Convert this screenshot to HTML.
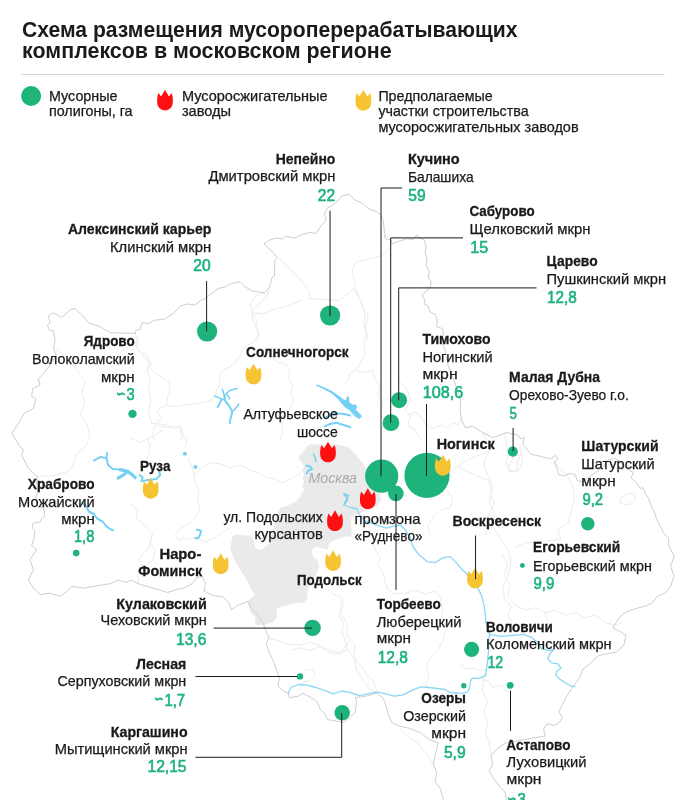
<!DOCTYPE html>
<html lang="ru"><head><meta charset="utf-8"><title>Схема размещения мусороперерабатывающих комплексов</title>
<style>html,body{margin:0;padding:0;background:#fff}svg{display:block;will-change:transform}text{font-family:"Liberation Sans",sans-serif}</style></head><body>
<svg width="686" height="800" viewBox="0 0 686 800">
<rect width="686" height="800" fill="#fff"/>
<path d="M305,449.2 L307.6,445.7 L312,444 L317.2,444.6 L336.5,444.6 L343.5,445.7 L348.7,447.5 L352.2,451 L355.7,454.5 L359.2,458.9 L362.7,463.2 L365.3,467.6 L369,476 L372,487 L380,494 L381,501 L376,506 L370,509.6 L362.7,512.2 L357.5,514 L354.8,515.7 L351,518 L351.8,536.6 L345.4,536.6 L336.6,539.5 L329.3,542.4 L327.9,549.7 L322,548.3 L316.2,546.8 L311.8,549.7 L313.3,557 L317.7,560 L319.1,565.8 L316.2,574.5 L310.4,583.3 L307.5,592 L307.5,597.8 L304.5,602.2 L292.9,603.7 L282.7,606.6 L277,609 L276.7,617.9 L273.2,622.2 L266,624.5 L256.6,624.9 L254.9,622.2 L255.7,617 L252.2,614.4 L249.6,610 L249.2,606.6 L247.7,600.8 L255,594.9 L252.1,590.6 L247.7,581.8 L243.3,574.5 L237.5,565.8 L233.1,557 L230.2,548.3 L232.5,536.5 L235.1,534.5 L241.7,534.9 L248.2,535.8 L252.2,536.5 L254.2,543.1 L255.5,548.3 L261.4,550.3 L269.9,543.1 L271.9,533 L274.5,524.7 L277.1,514 L278.4,510.9 L281,507.6 L287.5,506.1 L291,503.5 L294.5,502.6 L297.1,500 L299.7,497.3 L301.5,493.8 L304.1,490.3 L302.4,486 L304.1,482.5 L302.4,478.1 L304.1,473.7 L301.5,470.2 L304.1,467.6 L302.4,463.2 L299.7,460.6 L298.9,456.2 L302.4,452.7 Z" fill="#eaeaea"/>
<g fill="none" stroke="#ebebeb" stroke-width="1" stroke-linejoin="round">
<path d="M135.2,333.4 L136.8,340.1 L135.2,346.8 L140.2,351.8 L146.9,355.1 L150.2,363.4 L146.9,370.1 L150.2,380.1 L148.5,390.1 L150.9,400.2 L148.5,413.5 L151.9,423.5 L156.9,423.5 L166.9,425.2 L173.6,428.5 L180.2,426.9 L181.9,436.9 L186.9,440.2 L185.2,446.9"/>
<path d="M53.4,348.4 L66.8,356.8 L85.1,381.8 L81.8,393.5 L85.1,403.5 L80.1,413.5 L86.8,423.5 L90.1,436.9 L85.1,446.9 L76.8,453.6 L71.8,466.9 L66.8,471.9 L53.4,475.3 L37.4,476.9"/>
<path d="M277.3,257.6 L283.7,262.9 L298.3,277.5 L310.0,292.0 L308.5,298.5 L324.5,299.3 L339.1,300.8 L355.2,287.7 L352.2,268.7 L355.2,262.9 L365.4,260.0 L377.0,257.1 L382.9,255.6 L391.6,245.4"/>
<path d="M355.2,287.7 L356.6,295.0 L359.5,297.9 L362.4,306.6 L368.3,315.4 L365.4,327.0 L368.3,339.9"/>
<path d="M269.2,289.1 L267.7,295.0 L257.5,305.2 L251.7,312.4 L253.1,321.2 L259.0,329.9 L257.5,339.9"/>
<path d="M504.5,431.6 L507.9,453.2 L506.2,461.5 L509.5,471.5 L516.2,471.5 L517.8,461.5 L521.1,453.2 L519.5,444.9"/>
<path d="M552.7,458.2 L557.7,466.5 L567.7,476.4 L572.7,486.4 L574.3,499.7 L571.0,513.0 L567.7,523.0 L557.7,529.6 L561.0,539.6 L541.1,541.2 L524.5,542.9 L514.5,547.9"/>
<path d="M458.0,466.5 L477.9,476.4 L487.9,479.8 L491.2,489.7 L489.6,503.0 L494.6,513.0 L492.9,526.3 L501.2,539.6 L507.9,549.6 L511.2,562.8 L507.9,576.1 L502.9,586.1 L504.5,599.4 L511.2,606.0 L507.9,616.0 L514.5,626.0"/>
<path d="M269.2,637.9 L286.6,643.7 L298.3,645.2 L310.0,642.3 L321.6,646.6 L327.5,652.5 L339.1,653.9 L347.9,649.6 L345.0,640.8 L342.0,632.1 L343.5,623.3 L339.1,614.6 L342.0,605.8 L340.6,600.0"/>
<path d="M347.9,649.6 L353.7,658.3 L356.6,670.0 L362.4,678.7 L368.3,687.5 L377.0,693.3"/>
<path d="M484.0,680.0 L482.2,690.5 L487.5,701.0 L484.0,711.5 L487.5,722.0 L485.7,732.5 L489.2,741.2 L491.0,755.2"/>
<path d="M433.2,764.0 L428.0,755.2 L417.5,743.0 L407.0,736.0 L400.0,729.0"/>
<path d="M138.3,583.7 L138.3,572.1 L142.7,564.8 L138.3,560.4 L142.7,554.6 L148.5,548.7 L151.4,540.0"/>
<path d="M619.3,502.6 L621.6,496.8 L626.3,494.5 L632.1,493.3 L635.6,495.6 L634.5,500.3 L631.0,503.8 L626.3,505.0 L619.3,502.6"/>
<path d="M135.0,333.9 L138.8,340.2 L136.3,347.7 L141.3,352.7 L145.0,359.0 L151.3,362.7 L148.8,367.7 L155.1,372.7 L162.6,377.8 L168.9,382.8 L170.1,390.3 L167.6,397.8 L166.4,405.3 L173.9,406.6 L182.7,405.3 L192.7,404.1 L202.7,402.8 L210.2,400.3 L215.3,396.6"/>
<path d="M166.4,405.3 L160.1,407.9 L157.6,412.9 L161.3,417.9 L155.1,425.4 L152.6,432.9 L153.8,439.9"/>
<path d="M270.4,290.0 L266.7,295.0 L260.4,292.5 L254.1,297.5 L250.4,305.0 L252.9,312.6 L256.6,320.1 L255.4,327.6 L259.1,335.1 L255.4,340.2 L250.4,343.9 L242.8,348.9 L240.3,355.2 L235.3,362.7 L230.3,366.5 L222.8,370.2 L219.0,376.5 L220.3,384.0 L216.5,390.3 L215.3,396.6"/>
<path d="M252.9,312.6 L262.9,313.8 L270.4,310.1 L280.5,307.6 L290.5,305.0 L302.0,300.0"/>
<path d="M270.4,350.2 L272.9,357.7 L277.9,362.7 L285.5,364.0 L290.5,370.2 L288.0,377.8 L293.0,385.3 L290.5,392.8 L294.2,400.3 L290.5,407.9 L285.5,412.9 L280.5,420.4 L283.0,427.9 L280.5,439.9"/>
<path d="M155.1,425.4 L167.6,427.4 L180.2,426.7 L183.9,435.4 L180.2,439.9"/>
<path d="M356.4,290.0 L359.0,297.5 L362.7,305.0 L365.2,315.1 L364.0,325.1 L366.5,335.1 L364.0,342.7 L365.2,352.7 L360.2,362.7 L356.4,370.2 L350.2,372.7 L347.7,380.3 L343.9,385.3"/>
<path d="M356.4,370.2 L365.2,372.7 L372.7,370.2 L375.3,380.3 L380.3,385.3 L377.8,395.3 L382.8,402.8 L380.3,412.9 L384.0,420.4 L381.5,430.4"/>
<path d="M397.8,380.3 L402.8,385.3 L407.9,390.3 L410.4,400.3 L405.3,410.4 L410.4,415.4 L407.9,425.4 L415.4,430.4 L420.4,439.9"/>
<path d="M187.7,457.6 L191.4,465.1 L193.9,473.9 L195.2,482.7 L199.0,490.2 L197.7,500.2 L200.2,507.7 L196.4,515.3 L192.7,520.3 L186.4,525.3 L180.2,529.0 L175.1,535.3 L178.9,540.3 L183.9,537.8 L188.9,540.3 L192.7,537.8 L197.7,539.1 L205.2,541.6 L212.7,539.1 L220.3,534.1 L225.3,530.3 L230.3,528.3"/>
<path d="M193.9,473.9 L202.7,467.6 L210.2,462.6 L220.3,463.9 L230.3,467.6 L240.3,465.1 L250.4,470.1 L260.4,473.9 L266.7,477.6 L275.4,478.9 L283.0,482.7 L293.0,477.6 L302.0,472.6"/>
<path d="M130.0,437.5 L140.0,442.5 L147.6,438.8 L155.1,435.0 L162.6,430.0"/>
<path d="M147.6,438.8 L150.1,445.0 L148.8,455.1 L145.0,462.6"/>
<path d="M130.0,502.7 L137.5,510.2 L136.3,517.8 L145.0,525.3 L152.6,532.8 L150.1,542.8 L155.1,550.4 L152.6,560.4 L145.0,566.7"/>
<path d="M461.5,420.1 L457.7,425.1 L452.7,422.6 L447.7,427.6 L440.2,425.1 L432.6,428.8 L425.1,423.8 L420.1,415.0 L415.1,412.5 L407.6,415.0"/>
<path d="M482.8,432.6 L486.5,440.1 L490.3,450.2 L485.3,457.7 L484.0,465.2 L486.5,472.7 L490.3,480.2 L492.8,487.8 L490.3,495.3 L494.1,502.8 L491.6,510.3 L487.8,515.3 L490.3,525.4 L485.3,535.4"/>
<path d="M450.2,472.7 L455.2,467.7 L462.7,462.7 L472.7,457.7 L482.8,453.9 L490.3,450.2"/>
<path d="M447.7,490.3 L452.7,500.3 L450.2,507.8 L440.2,510.3 L432.6,517.9 L427.6,525.4 L430.1,535.4"/>
<path d="M507.9,467.2 L511.6,461.4 L513.4,456.4 L522.4,453.9 L521.6,462.7 L519.1,470.2 L514.1,471.5 L509.9,470.2 L507.9,467.2"/>
<path d="M327.6,588.9 L332.6,593.9 L340.2,596.4 L343.9,602.7 L340.2,610.2 L343.9,617.7 L347.7,625.3 L346.4,632.8 L350.2,640.3 L355.2,645.3 L353.9,655.3 L357.7,662.9 L362.7,667.9 L367.7,675.4 L372.7,680.4 L376.5,689.9"/>
<path d="M372.7,540.0 L375.3,550.0 L380.3,557.6 L377.8,565.1 L382.8,572.6 L385.3,582.6 L387.8,590.2 L395.3,593.9 L407.9,592.7 L415.4,590.2 L425.4,593.9 L435.4,591.4 L440.5,597.7 L443.0,610.2 L440.5,620.2 L445.5,630.3 L443.0,640.3 L437.9,650.3 L430.4,657.9 L426.7,665.4 L429.2,675.4 L425.4,685.4 L430.4,689.9"/>
<path d="M290.0,650.3 L300.0,647.8 L310.1,650.3 L320.1,646.6 L330.1,650.3 L340.2,652.8 L350.2,640.3"/>
<path d="M305.0,670.4 L312.6,669.1 L315.1,675.4 L310.1,680.4 L302.5,682.9 L300.0,689.9"/>
<path d="M502.7,555.0 L507.7,565.1 L503.9,575.1 L510.2,585.1 L507.7,595.2 L515.2,605.2 L525.2,610.2 L535.3,607.7 L545.3,612.7 L555.3,610.2 L565.3,615.2 L575.4,612.7 L585.4,617.7 L595.4,615.2 L605.5,622.7 L615.5,625.3 L622.0,622.7"/>
<path d="M545.3,612.7 L547.8,622.7 L552.8,630.3"/>
<path d="M460.0,664.9 L466.1,669.0 L472.2,668.0 L480.4,670.0 L486.5,669.0 L488.6,673.1 L482.4,679.2 L488.6,681.2 L492.7,687.3 L500.8,685.3 L504.9,690.4 L511.0,691.4"/>
</g>
<g fill="none" stroke="#cecece" stroke-width="1" stroke-linejoin="round">
<path d="M349.3,194.4 L355.2,200.2 L362.4,203.1 L366.8,207.5 L372.6,210.4 L376.1,211.2 L381.2,215.3 L383.3,220.4 L384.3,230.6 L385.3,238.8 L390.4,239.8 L392.4,243.9 L396.5,241.8 L400.6,240.8 L406.7,238.8 L412.9,239.8 L416.9,234.7 L419,237.8 L424.1,239.8 L426.1,246.9 L425.1,253.1 L427.1,259.2 L426.1,265.3 L429.2,271.4 L428.2,277.6 L431.2,281.6 L430.2,287.8 L425.1,291.8 L422,295.9 L425.1,300 L424.1,304.1 L428.2,306.1 L430.2,312.2 L435.3,314.3 L437.3,320.4 L436.3,326.5 L442.4,328.6 L443.5,334.7 L441.4,340 L445,350 L448,365 L454,380.2 L457.4,390.3 L460.7,400.3 L460.2,410 L461.5,420.1 L465.2,427.6 L472.7,426.3 L482.8,432.6 L492.8,437.6 L500.3,435.1 L506.6,432.6 L512.9,433.9 L517.9,435.1 L520.4,438.9 L524.2,437.6 L522.9,443.9 L526.7,448.9 L530.4,453.9 L540.5,456.4 L550.5,458.9 L555.5,455.2 L558,458.9 L554.2,462.7 L556.7,467.7 L558.7,474.6 L563.3,475.8 L570.3,473.5 L575,474.6 L577.3,480.5 L582,481.6 L603,467.6 L607.6,460.6 L614.6,458.3 L619.3,460.6 L624,466.5 L628.6,470 L633.3,472.3 L631,478.1 L635.6,481.6 L640.3,488.6 L642.6,487.5 L645,493.3 L648.5,498 L650.8,505 L654.3,512 L656.6,519 L660.1,526 L663.6,533 L668.3,537.6 L669,546.2 L674,556.2 L670.7,566.2 L674,576.2 L670.7,586.1 L665.7,592.8 L657.4,596.1 L652.4,602.7 L646.4,605.6 L633.4,609.3 L624,613.1 L618.4,618.7 L612.8,628 L620.3,631.7 L625.9,635.4 L624,644.8 L616.6,652.2 L605.4,654.1 L597.9,656 L590.4,663.4 L583,669 L579.3,678.4 L573.7,685.8 L569.9,691.4 L566.2,697 L562.5,704.5 L558.7,711.9 L562.5,717.5 L558.7,723.1 L554,725.5 L547,723.7 L543.5,729 L545.2,736 L505,743 L498,748.2 L491,755.2 L492.7,764 L489.2,771 L494.5,779.7 L499.7,786.7 L505,792 L506.7,801"/>
<path d="M443.7,801 L440.2,788.5 L435,781.5 L436.7,772.7 L433.2,764 L438.3,742.9 L429.5,739.9 L420.8,732.7 L409.1,728.3 L397.4,725.4 L391.6,722.4 L388.7,715.2 L385.8,705 L382.9,697.7 L377,693.3 L365.4,696.2 L355.2,697.7 L356.6,702 L355.2,712.2 L350.8,716.6 L343.5,722.4 L336.2,721 L327.5,719.5 L324.5,713.7 L320.2,709.3 L317.3,702 L311.4,697.7 L302.7,693.3 L298.3,696.2 L289.6,697.7 L288.1,693.3 L282.3,690.4 L277.9,686 L279.4,677.3 L276.4,670 L273.5,661.2 L269.2,652.5 L266.2,643.7 L269.2,637.9 L266.2,632 L263.3,623.3 L257.5,614.6 L251.7,608.7 L247.3,601 L244.7,602.7 L237.4,605.6 L231.6,610 L228.7,602.7 L222.9,596.9 L212.7,595.4 L203.9,591 L205.4,583.7 L202.4,576.4 L196.6,577.9 L192.2,583.7 L183.5,588.1 L176.2,589.6 L167.5,592.5 L152.9,588.1 L138.3,583.7 L131,580.2 L126.6,582.3 L117.9,580.2 L110.6,583.7 L103.5,584.7 L93.5,586.4 L83.4,588.1 L71.8,586.4 L66.8,591.4 L60.1,596.4 L50.1,593.1 L40.1,594.7 L33.4,588.1 L28.4,579.7 L33.4,569.7 L30,559.7 L36.7,549.7 L31.7,545.4 L34.2,538 L34.8,530.5 L32.3,528 L33,523.1 L40.4,521.8 L41,519.4 L44.1,516.9 L44.7,511.9 L43.5,508.2 L37.3,505.7 L35.4,498.3 L37.9,492.1 L36.7,483.4 L37.4,476.9 L33.4,472.9 L28.4,468.6 L26,463.6 L21.7,455.2 L23.4,449.6 L20,446.9 L16,440.2 L11.7,433.5 L18.4,423.5 L24,413.5 L33.4,408.5 L36,399.5 L31.7,396.2 L32.7,388.5 L40.1,385.1 L38.4,378.5 L43.4,373.5 L50.1,365.1 L56.1,355.1 L53.4,348.4 L55.1,340.1 L53.4,330.7 L49.4,330.1 L47.4,325.1 L50.1,322.7 L48.4,316 L53.4,312.7 L61.7,317.4 L70.8,309.4 L75.1,308.4 L82.8,316 L88.5,322.7 L100.1,326.7 L110.1,332.7 L135.2,333.4 L136.2,330.1 L140.2,329.4 L141.9,322.7 L148.5,323.4 L155.2,320.1 L163.6,319.4 L173.6,313.4 L180.2,306 L186.9,304 L195.3,305 L200.3,300.7 L205,298.5 L211.7,293.5 L218.4,288.5 L225,286.8 L231.7,283.4 L240.1,281.8 L245.1,286.8 L253.1,291.5 L264.8,292.6 L269.2,287.7 L272.1,277.5 L274.4,276 L275,260 L277.3,257.6 L273.5,252.7 L263.9,243.9 L269.2,240.1 L276.4,238.1 L283.1,239 L286.1,236.1 L293.9,238.1 L302.7,234.3 L310,232.3 L315.8,233.7 L321.6,225 L326,220.6 L324.5,213.3 L327.5,208.1 L334.8,204 L337.7,201.1 L342,195.8 L349.3,194.4"/>
</g>
<g fill="none" stroke="#8ad6f6" stroke-linecap="round" stroke-linejoin="round">
<g stroke-width="1.3"><path d="M344,494 L347,499 L344,505 L351,507.5 L357,509 L359.1,514.1 L364.2,520.1 L376.3,525.2 L386.4,528.2 L393.5,526.2 L400.6,525.2 L405.7,530.3 L410.7,538.4 L412.8,546.5 L418.8,554.6 L426.9,561.6 L435,562.7 L443.1,557.6 L450.2,556.6 L455.3,561.6 L461.3,568.7 L467.4,574.8 L470,577.8 L477.4,587.2 L481.5,595.4 L484.3,606.4 L485.6,617.4 L485.5,620 L487.6,628.2 L489.6,634.3"/><path d="M288.1,693.3 L291,687.5 L298.3,684.5 L307.1,685.1 L315.8,687.5 L324.5,690.4 L333.3,693.9 L342,691 L350.8,692.7 L359.5,695.6 L368.3,693.9 L377,691.8 L385.8,693.9 L394.5,696.2 L403.3,694.8 L412,690.4 L420.8,686.9 L429.5,687.5 L445,689.5 L449.7,692.1 L456.7,693 L462.5,693.3 L467.2,692.1 L469.5,688.9 L470.1,683.7 L471.2,679.6 L473,678.1 L477.7,678.4 L482.3,677.2 L485,675.8 L486.5,669 L487.6,660.8 L488.6,650.6 L488.6,642.4 L489.6,634.3 L500.8,636.3 L513.1,635.3 L523.3,634.3 L531.4,637.3 L537.6,642.4 L541.6,648.6 L549.8,650.6 L553.9,649.6 L549.8,653.7 L547.8,658.8 L551.8,662.9 L558,663.9 L561,668 L556.9,671 L555.9,675.1 L560,679.2 L566.1,683.3 L571.2,686.3 L575.3,686.3"/></g>
<g stroke-width="1.5" stroke="#74d1f5"><path d="M313.3,454 L315.3,457.8 L315.8,461.5"/><path d="M224.7,395.7 L227.3,392.5 L229.9,390.5 L233.9,389.2 L237.2,388.5"/><path d="M224.7,397.5 L223.4,392.5 L222.4,389.5"/><path d="M227.3,395.1 L229,397.1 L229.6,399"/><path d="M224.7,399.7 L221.4,399 L218.1,397.4 L214.8,396.1"/><path d="M232.6,411.5 L235.2,408.9 L237.2,406.2 L238.8,404"/></g>
<g stroke-width="2" stroke="#74d1f5"><path d="M306.5,465.5 L310.5,466.8 L312,469 L308.5,470.5 L306.5,473.5"/><path d="M222,399.5 L220.1,402.3 L218.8,405.3 L217.5,407.2"/><path d="M224.7,396 L224.7,399.7 L226.7,403 L229.3,406.2 L231.2,409.5 L232.2,412.8 L231.2,416.1 L230.3,419.4 L229.9,423"/><path d="M82.6,502.7 L86.3,506.5 L88.8,511.5 L93.9,514 L97.6,519 L102.6,521.5 L106.4,526.5 L110.2,529 L113.2,530.3"/><path d="M93.9,460.6 L100.1,457.1 L106.4,458.1 L108.1,465.1 L112.7,468.9 L120.2,469.6"/><path d="M106.4,458.1 L107,453"/><path d="M139.7,475.1 L142.7,477.6 L141.5,481.4 L146.5,480.2 L156.5,478.9 L160.3,475.1 L159,471.4 L161.6,470.1"/><path d="M196.7,529.8 L200.9,530.8 L200.4,534 L198.4,537.8 L195.4,538.3"/><path d="M324.6,426.4 L330.4,423.9 L336.7,422.7 L344.2,425.2 L350.5,427.2"/><path d="M325.1,417.9 L333.9,412.9 L343.9,414.1 L350.2,415.4"/><path d="M344.2,494.1 L347.9,495.4 L346.7,500.4 L344.2,504.2"/></g>
<g stroke-width="3.2" stroke="#74d1f5"><path d="M120.2,469.6 L127.7,471.4 L132.7,475.1 L135.2,477.6"/><path d="M118.2,478.1 L123.9,474.6 L127.7,471.4"/></g>
</g>
<g fill="#74d1f5"><path d="M316.3,384.3 L323.9,387.3 L331.4,390.8 L338.9,395.8 L343.2,399.3 L345.7,400.3 L347.2,396.3 L349.2,397.3 L349.2,402.3 L352.7,404.8 L355.7,404.3 L357.2,407.4 L355.7,409.4 L359.0,412.9 L362.0,415.9 L359.7,418.9 L355.7,416.9 L352.2,413.4 L349.2,409.9 L345.7,407.9 L342.2,404.3 L338.1,399.3 L331.4,393.3 L323.9,389.3 L316.3,385.8 Z"/></g>
<g fill="#74d1f5"><circle cx="184.9" cy="453.8" r="2"/><circle cx="195.4" cy="467.1" r="2"/></g>
<rect x="21.1" y="74" width="643.7" height="1" fill="#d5d5d5"/>
<g fill="#1fb37c">
<circle cx="31.1" cy="96" r="10"/>
<circle cx="330.1" cy="315.5" r="10.1"/>
<circle cx="207.1" cy="331.5" r="10.1"/>
<circle cx="132.5" cy="413.9" r="4.2"/>
<circle cx="76.2" cy="553.1" r="3.3"/>
<circle cx="312.6" cy="627.9" r="8.2"/>
<circle cx="427" cy="475.4" r="22.6"/>
<circle cx="381.7" cy="476.2" r="16.6"/>
<circle cx="395.9" cy="493.4" r="7.8"/>
<circle cx="391" cy="422.7" r="8.4"/>
<circle cx="399.1" cy="400.2" r="8"/>
<circle cx="512.8" cy="451.6" r="5.1"/>
<circle cx="587.8" cy="523.8" r="6.8"/>
<circle cx="522.4" cy="565.5" r="2.4"/>
<circle cx="471.6" cy="649.3" r="7.6"/>
<circle cx="463.8" cy="685.8" r="2.7"/>
<circle cx="510.2" cy="685.3" r="3.4"/>
<circle cx="300" cy="676.4" r="3.2"/>
<circle cx="342.2" cy="712.8" r="7.7"/>
</g>
<path transform="translate(157.22,89.75) scale(0.972,0.985)" d="M1.2,3.3 L4,6.8 L8,0 L12,6.8 L14.8,3.3 C16,7 16.3,10 16,13 C16,17.5 12.5,21 8,21 C3.5,21 0,17.5 0,13 C-0.3,10 0,7 1.2,3.3 Z" fill="#ff1010"/>
<path transform="translate(355.62,89.85) scale(0.972,0.985)" d="M1.2,3.3 L4,6.8 L8,0 L12,6.8 L14.8,3.3 C16,7 16.3,10 16,13 C16,17.5 12.5,21 8,21 C3.5,21 0,17.5 0,13 C-0.3,10 0,7 1.2,3.3 Z" fill="#f6c332"/>
<path transform="translate(245.72,363.65) scale(0.972,0.985)" d="M1.2,3.3 L4,6.8 L8,0 L12,6.8 L14.8,3.3 C16,7 16.3,10 16,13 C16,17.5 12.5,21 8,21 C3.5,21 0,17.5 0,13 C-0.3,10 0,7 1.2,3.3 Z" fill="#f6c332"/>
<path transform="translate(320.22,441.65) scale(0.972,0.985)" d="M1.2,3.3 L4,6.8 L8,0 L12,6.8 L14.8,3.3 C16,7 16.3,10 16,13 C16,17.5 12.5,21 8,21 C3.5,21 0,17.5 0,13 C-0.3,10 0,7 1.2,3.3 Z" fill="#ff1010"/>
<path transform="translate(142.92,477.95) scale(0.972,0.985)" d="M1.2,3.3 L4,6.8 L8,0 L12,6.8 L14.8,3.3 C16,7 16.3,10 16,13 C16,17.5 12.5,21 8,21 C3.5,21 0,17.5 0,13 C-0.3,10 0,7 1.2,3.3 Z" fill="#f6c332"/>
<path transform="translate(327.22,510.35) scale(0.972,0.985)" d="M1.2,3.3 L4,6.8 L8,0 L12,6.8 L14.8,3.3 C16,7 16.3,10 16,13 C16,17.5 12.5,21 8,21 C3.5,21 0,17.5 0,13 C-0.3,10 0,7 1.2,3.3 Z" fill="#ff1010"/>
<path transform="translate(212.92,553.35) scale(0.972,0.985)" d="M1.2,3.3 L4,6.8 L8,0 L12,6.8 L14.8,3.3 C16,7 16.3,10 16,13 C16,17.5 12.5,21 8,21 C3.5,21 0,17.5 0,13 C-0.3,10 0,7 1.2,3.3 Z" fill="#f6c332"/>
<path transform="translate(325.32,550.25) scale(0.972,0.985)" d="M1.2,3.3 L4,6.8 L8,0 L12,6.8 L14.8,3.3 C16,7 16.3,10 16,13 C16,17.5 12.5,21 8,21 C3.5,21 0,17.5 0,13 C-0.3,10 0,7 1.2,3.3 Z" fill="#f6c332"/>
<path transform="translate(435.02,454.95) scale(0.972,0.985)" d="M1.2,3.3 L4,6.8 L8,0 L12,6.8 L14.8,3.3 C16,7 16.3,10 16,13 C16,17.5 12.5,21 8,21 C3.5,21 0,17.5 0,13 C-0.3,10 0,7 1.2,3.3 Z" fill="#f6c332"/>
<path transform="translate(360.02,488.35) scale(0.972,0.985)" d="M1.2,3.3 L4,6.8 L8,0 L12,6.8 L14.8,3.3 C16,7 16.3,10 16,13 C16,17.5 12.5,21 8,21 C3.5,21 0,17.5 0,13 C-0.3,10 0,7 1.2,3.3 Z" fill="#ff1010"/>
<path transform="translate(467.22,567.65) scale(0.972,0.985)" d="M1.2,3.3 L4,6.8 L8,0 L12,6.8 L14.8,3.3 C16,7 16.3,10 16,13 C16,17.5 12.5,21 8,21 C3.5,21 0,17.5 0,13 C-0.3,10 0,7 1.2,3.3 Z" fill="#f6c332"/>
<g fill="none" stroke="#1a1a1a" stroke-width="1">
<polyline points="330.05,210.8 330.05,316"/>
<polyline points="206.6,281.1 206.6,331.3"/>
<polyline points="402,188 381,188 381,476.4"/>
<polyline points="463,237.9 390.7,237.9 390.7,422.7"/>
<polyline points="536.5,287.9 398.7,287.9 398.7,400.2"/>
<polyline points="426.5,404 426.5,475.6"/>
<polyline points="513.1,427.8 513.1,451"/>
<polyline points="396,494.1 396,590"/>
<polyline points="475.55,535.5 475.55,579.2"/>
<polyline points="213.7,628.1 312,628.1"/>
<polyline points="195.5,676.5 297,676.5"/>
<polyline points="195.5,757.3 341.7,757.3 341.7,713.3"/>
<polyline points="510.5,690.7 510.5,731"/>
</g>
<text x="22.1" y="37.3" font-size="22.3" fill="#1a1a1a" font-weight="bold" stroke="#1a1a1a" stroke-width="0.0" textLength="495.5" lengthAdjust="spacingAndGlyphs">Схема размещения мусороперерабатывающих</text>
<text x="22.1" y="58.2" font-size="22.3" fill="#1a1a1a" font-weight="bold" stroke="#1a1a1a" stroke-width="0.0" textLength="369.5" lengthAdjust="spacingAndGlyphs">комплексов в московском регионе</text>
<text x="48.9" y="100.5" font-size="14.1" fill="#1a1a1a" stroke="#1a1a1a" stroke-width="0.25" textLength="68.7" lengthAdjust="spacingAndGlyphs">Мусорные</text>
<text x="48.9" y="116" font-size="14.1" fill="#1a1a1a" stroke="#1a1a1a" stroke-width="0.25" textLength="83.7" lengthAdjust="spacingAndGlyphs">полигоны, га</text>
<text x="181.9" y="100.5" font-size="14.1" fill="#1a1a1a" stroke="#1a1a1a" stroke-width="0.25" textLength="145.7" lengthAdjust="spacingAndGlyphs">Мусоросжигательные</text>
<text x="181.9" y="115.7" font-size="14.1" fill="#1a1a1a" stroke="#1a1a1a" stroke-width="0.25" textLength="49.2" lengthAdjust="spacingAndGlyphs">заводы</text>
<text x="378.4" y="100.5" font-size="14.1" fill="#1a1a1a" stroke="#1a1a1a" stroke-width="0.25" textLength="114.2" lengthAdjust="spacingAndGlyphs">Предполагаемые</text>
<text x="378.4" y="116" font-size="14.1" fill="#1a1a1a" stroke="#1a1a1a" stroke-width="0.25" textLength="150.2" lengthAdjust="spacingAndGlyphs">участки строительства</text>
<text x="378.4" y="132" font-size="14.1" fill="#1a1a1a" stroke="#1a1a1a" stroke-width="0.25" textLength="200.2" lengthAdjust="spacingAndGlyphs">мусоросжигательных заводов</text>
<text x="275.7" y="163.8" font-size="15.3" fill="#1a1a1a" font-weight="bold" stroke="#1a1a1a" stroke-width="0.3" textLength="59.7" lengthAdjust="spacingAndGlyphs">Непейно</text>
<text x="208.4" y="181.1" font-size="14.1" fill="#1a1a1a" stroke="#1a1a1a" stroke-width="0.25" textLength="127.0" lengthAdjust="spacingAndGlyphs">Дмитровский мкрн</text>
<text x="317.8" y="200.7" font-size="15.6" fill="#1fb37c" stroke="#1fb37c" stroke-width="0.62" textLength="17.2" lengthAdjust="spacingAndGlyphs">22</text>
<text x="407.9" y="164.4" font-size="15.3" fill="#1a1a1a" font-weight="bold" stroke="#1a1a1a" stroke-width="0.3" textLength="51.7" lengthAdjust="spacingAndGlyphs">Кучино</text>
<text x="407.9" y="181.6" font-size="14.1" fill="#1a1a1a" stroke="#1a1a1a" stroke-width="0.25" textLength="65.7" lengthAdjust="spacingAndGlyphs">Балашиха</text>
<text x="408.3" y="200.6" font-size="15.6" fill="#1fb37c" stroke="#1fb37c" stroke-width="0.62" textLength="17.4" lengthAdjust="spacingAndGlyphs">59</text>
<text x="469.5" y="216.2" font-size="15.3" fill="#1a1a1a" font-weight="bold" stroke="#1a1a1a" stroke-width="0.3" textLength="65.1" lengthAdjust="spacingAndGlyphs">Сабурово</text>
<text x="469.5" y="233.6" font-size="14.1" fill="#1a1a1a" stroke="#1a1a1a" stroke-width="0.25" textLength="121.1" lengthAdjust="spacingAndGlyphs">Щелковский мкрн</text>
<text x="470.3" y="253.1" font-size="15.6" fill="#1fb37c" stroke="#1fb37c" stroke-width="0.62" textLength="17.9" lengthAdjust="spacingAndGlyphs">15</text>
<text x="546.5" y="266.2" font-size="15.3" fill="#1a1a1a" font-weight="bold" stroke="#1a1a1a" stroke-width="0.3" textLength="51.1" lengthAdjust="spacingAndGlyphs">Царево</text>
<text x="546.5" y="283.8" font-size="14.1" fill="#1a1a1a" stroke="#1a1a1a" stroke-width="0.25" textLength="119.6" lengthAdjust="spacingAndGlyphs">Пушкинский мкрн</text>
<text x="546.9" y="303.0" font-size="15.6" fill="#1fb37c" stroke="#1fb37c" stroke-width="0.62" textLength="29.8" lengthAdjust="spacingAndGlyphs">12,8</text>
<text x="67.9" y="234" font-size="15.3" fill="#1a1a1a" font-weight="bold" stroke="#1a1a1a" stroke-width="0.3" textLength="143.5" lengthAdjust="spacingAndGlyphs">Алексинский карьер</text>
<text x="109.9" y="251.6" font-size="14.1" fill="#1a1a1a" stroke="#1a1a1a" stroke-width="0.25" textLength="101.2" lengthAdjust="spacingAndGlyphs">Клинский мкрн</text>
<text x="193.3" y="270.8" font-size="15.6" fill="#1fb37c" stroke="#1fb37c" stroke-width="0.62" textLength="17.3" lengthAdjust="spacingAndGlyphs">20</text>
<text x="83.7" y="346.4" font-size="15.3" fill="#1a1a1a" font-weight="bold" stroke="#1a1a1a" stroke-width="0.3" textLength="51.0" lengthAdjust="spacingAndGlyphs">Ядрово</text>
<text x="31.9" y="364.1" font-size="14.1" fill="#1a1a1a" stroke="#1a1a1a" stroke-width="0.25" textLength="102.8" lengthAdjust="spacingAndGlyphs">Волоколамский</text>
<text x="101.0" y="381.7" font-size="14.1" fill="#1a1a1a" stroke="#1a1a1a" stroke-width="0.25" textLength="33.7" lengthAdjust="spacingAndGlyphs">мкрн</text>
<text x="116.4" y="398.6" font-size="15.6" fill="#1fb37c" stroke="#1fb37c" stroke-width="0.62" textLength="9.4" lengthAdjust="spacingAndGlyphs">∽</text>
<text x="126.4" y="400.40000000000003" font-size="15.6" fill="#1fb37c" stroke="#1fb37c" stroke-width="0.62" textLength="8.1" lengthAdjust="spacingAndGlyphs">3</text>
<text x="246.1" y="356.5" font-size="15.3" fill="#1a1a1a" font-weight="bold" stroke="#1a1a1a" stroke-width="0.3" textLength="102.5" lengthAdjust="spacingAndGlyphs">Солнечногорск</text>
<text x="243.4" y="418.9" font-size="14.1" fill="#1a1a1a" stroke="#1a1a1a" stroke-width="0.25" textLength="94.6" lengthAdjust="spacingAndGlyphs">Алтуфьевское</text>
<text x="297.1" y="436.7" font-size="14.1" fill="#1a1a1a" stroke="#1a1a1a" stroke-width="0.25" textLength="40.7" lengthAdjust="spacingAndGlyphs">шоссе</text>
<text x="308.4" y="483" font-size="14" fill="#a9a9a9" font-style="italic" textLength="48.6" lengthAdjust="spacingAndGlyphs">Москва</text>
<text x="140.0" y="471.3" font-size="15.3" fill="#1a1a1a" font-weight="bold" stroke="#1a1a1a" stroke-width="0.3" textLength="30.4" lengthAdjust="spacingAndGlyphs">Руза</text>
<text x="27.8" y="489" font-size="15.3" fill="#1a1a1a" font-weight="bold" stroke="#1a1a1a" stroke-width="0.3" textLength="66.9" lengthAdjust="spacingAndGlyphs">Храброво</text>
<text x="18.1" y="506.6" font-size="14.1" fill="#1a1a1a" stroke="#1a1a1a" stroke-width="0.25" textLength="76.6" lengthAdjust="spacingAndGlyphs">Можайский</text>
<text x="61.2" y="524.1" font-size="14.1" fill="#1a1a1a" stroke="#1a1a1a" stroke-width="0.25" textLength="33.5" lengthAdjust="spacingAndGlyphs">мкрн</text>
<text x="74.0" y="542.3000000000001" font-size="15.6" fill="#1fb37c" stroke="#1fb37c" stroke-width="0.62" textLength="20.3" lengthAdjust="spacingAndGlyphs">1,8</text>
<text x="223.4" y="521.5" font-size="14.1" fill="#1a1a1a" stroke="#1a1a1a" stroke-width="0.25" textLength="99.4" lengthAdjust="spacingAndGlyphs">ул. Подольских</text>
<text x="254.4" y="538.8" font-size="14.1" fill="#1a1a1a" stroke="#1a1a1a" stroke-width="0.25" textLength="68.4" lengthAdjust="spacingAndGlyphs">курсантов</text>
<text x="159.5" y="559.4" font-size="15.3" fill="#1a1a1a" font-weight="bold" stroke="#1a1a1a" stroke-width="0.3" textLength="41.8" lengthAdjust="spacingAndGlyphs">Наро-</text>
<text x="138.3" y="576.1" font-size="15.3" fill="#1a1a1a" font-weight="bold" stroke="#1a1a1a" stroke-width="0.3" textLength="63.8" lengthAdjust="spacingAndGlyphs">Фоминск</text>
<text x="297.0" y="585.2" font-size="15.3" fill="#1a1a1a" font-weight="bold" stroke="#1a1a1a" stroke-width="0.3" textLength="64.7" lengthAdjust="spacingAndGlyphs">Подольск</text>
<text x="116.3" y="608.6" font-size="15.3" fill="#1a1a1a" font-weight="bold" stroke="#1a1a1a" stroke-width="0.3" textLength="90.4" lengthAdjust="spacingAndGlyphs">Кулаковский</text>
<text x="100.5" y="625.2" font-size="14.1" fill="#1a1a1a" stroke="#1a1a1a" stroke-width="0.25" textLength="106.2" lengthAdjust="spacingAndGlyphs">Чеховский мкрн</text>
<text x="176.1" y="644.6" font-size="15.6" fill="#1fb37c" stroke="#1fb37c" stroke-width="0.62" textLength="30.2" lengthAdjust="spacingAndGlyphs">13,6</text>
<text x="422.4" y="344.4" font-size="15.3" fill="#1a1a1a" font-weight="bold" stroke="#1a1a1a" stroke-width="0.3" textLength="68.2" lengthAdjust="spacingAndGlyphs">Тимохово</text>
<text x="422.4" y="361.6" font-size="14.1" fill="#1a1a1a" stroke="#1a1a1a" stroke-width="0.25" textLength="70.2" lengthAdjust="spacingAndGlyphs">Ногинский</text>
<text x="422.4" y="379.1" font-size="14.1" fill="#1a1a1a" stroke="#1a1a1a" stroke-width="0.25" textLength="35.2" lengthAdjust="spacingAndGlyphs">мкрн</text>
<text x="422.8" y="397.8" font-size="15.6" fill="#1fb37c" stroke="#1fb37c" stroke-width="0.62" textLength="40.4" lengthAdjust="spacingAndGlyphs">108,6</text>
<text x="436.7" y="448.5" font-size="15.3" fill="#1a1a1a" font-weight="bold" stroke="#1a1a1a" stroke-width="0.3" textLength="57.9" lengthAdjust="spacingAndGlyphs">Ногинск</text>
<text x="509.1" y="382.2" font-size="15.3" fill="#1a1a1a" font-weight="bold" stroke="#1a1a1a" stroke-width="0.3" textLength="90.9" lengthAdjust="spacingAndGlyphs">Малая Дубна</text>
<text x="509.1" y="399.8" font-size="14.1" fill="#1a1a1a" stroke="#1a1a1a" stroke-width="0.25" textLength="119.7" lengthAdjust="spacingAndGlyphs">Орехово-Зуево г.о.</text>
<text x="509.5" y="418.70000000000005" font-size="15.6" fill="#1fb37c" stroke="#1fb37c" stroke-width="0.62" textLength="7.4" lengthAdjust="spacingAndGlyphs">5</text>
<text x="581.3" y="451.1" font-size="15.3" fill="#1a1a1a" font-weight="bold" stroke="#1a1a1a" stroke-width="0.3" textLength="77.3" lengthAdjust="spacingAndGlyphs">Шатурский</text>
<text x="581.3" y="468.5" font-size="14.1" fill="#1a1a1a" stroke="#1a1a1a" stroke-width="0.25" textLength="73.4" lengthAdjust="spacingAndGlyphs">Шатурский</text>
<text x="581.3" y="485.6" font-size="14.1" fill="#1a1a1a" stroke="#1a1a1a" stroke-width="0.25" textLength="34.4" lengthAdjust="spacingAndGlyphs">мкрн</text>
<text x="582.4" y="505.20000000000005" font-size="15.6" fill="#1fb37c" stroke="#1fb37c" stroke-width="0.62" textLength="20.7" lengthAdjust="spacingAndGlyphs">9,2</text>
<text x="354.5" y="523.8" font-size="14.1" fill="#1a1a1a" stroke="#1a1a1a" stroke-width="0.25" textLength="65.9" lengthAdjust="spacingAndGlyphs">промзона</text>
<text x="354.5" y="541.4" font-size="14.1" fill="#1a1a1a" stroke="#1a1a1a" stroke-width="0.25" textLength="68.0" lengthAdjust="spacingAndGlyphs">«Руднево»</text>
<text x="376.7" y="609.2" font-size="15.3" fill="#1a1a1a" font-weight="bold" stroke="#1a1a1a" stroke-width="0.3" textLength="64.0" lengthAdjust="spacingAndGlyphs">Торбеево</text>
<text x="376.7" y="627" font-size="14.1" fill="#1a1a1a" stroke="#1a1a1a" stroke-width="0.25" textLength="84.8" lengthAdjust="spacingAndGlyphs">Люберецкий</text>
<text x="376.7" y="643.2" font-size="14.1" fill="#1a1a1a" stroke="#1a1a1a" stroke-width="0.25" textLength="34.2" lengthAdjust="spacingAndGlyphs">мкрн</text>
<text x="377.7" y="662.9" font-size="15.6" fill="#1fb37c" stroke="#1fb37c" stroke-width="0.62" textLength="30.2" lengthAdjust="spacingAndGlyphs">12,8</text>
<text x="452.5" y="525.5" font-size="15.3" fill="#1a1a1a" font-weight="bold" stroke="#1a1a1a" stroke-width="0.3" textLength="88.6" lengthAdjust="spacingAndGlyphs">Воскресенск</text>
<text x="533.0" y="552.4" font-size="15.3" fill="#1a1a1a" font-weight="bold" stroke="#1a1a1a" stroke-width="0.3" textLength="87.2" lengthAdjust="spacingAndGlyphs">Егорьевский</text>
<text x="533.0" y="570.8" font-size="14.1" fill="#1a1a1a" stroke="#1a1a1a" stroke-width="0.25" textLength="118.9" lengthAdjust="spacingAndGlyphs">Егорьевский мкрн</text>
<text x="533.4" y="589.4" font-size="15.6" fill="#1fb37c" stroke="#1fb37c" stroke-width="0.62" textLength="20.9" lengthAdjust="spacingAndGlyphs">9,9</text>
<text x="486.1" y="631.6" font-size="15.3" fill="#1a1a1a" font-weight="bold" stroke="#1a1a1a" stroke-width="0.3" textLength="66.7" lengthAdjust="spacingAndGlyphs">Воловичи</text>
<text x="486.1" y="648.5" font-size="14.1" fill="#1a1a1a" stroke="#1a1a1a" stroke-width="0.25" textLength="125.4" lengthAdjust="spacingAndGlyphs">Коломенский мкрн</text>
<text x="487.4" y="668.2" font-size="15.6" fill="#1fb37c" stroke="#1fb37c" stroke-width="0.62" textLength="15.7" lengthAdjust="spacingAndGlyphs">12</text>
<text x="421.3" y="703.4" font-size="15.3" fill="#1a1a1a" font-weight="bold" stroke="#1a1a1a" stroke-width="0.3" textLength="44.7" lengthAdjust="spacingAndGlyphs">Озеры</text>
<text x="403.2" y="720.9" font-size="14.1" fill="#1a1a1a" stroke="#1a1a1a" stroke-width="0.25" textLength="62.8" lengthAdjust="spacingAndGlyphs">Озерский</text>
<text x="431.2" y="738" font-size="14.1" fill="#1a1a1a" stroke="#1a1a1a" stroke-width="0.25" textLength="34.8" lengthAdjust="spacingAndGlyphs">мкрн</text>
<text x="443.9" y="757.9" font-size="15.6" fill="#1fb37c" stroke="#1fb37c" stroke-width="0.62" textLength="21.7" lengthAdjust="spacingAndGlyphs">5,9</text>
<text x="506.3" y="749.5" font-size="15.3" fill="#1a1a1a" font-weight="bold" stroke="#1a1a1a" stroke-width="0.3" textLength="64.2" lengthAdjust="spacingAndGlyphs">Астапово</text>
<text x="506.6" y="766.9" font-size="14.1" fill="#1a1a1a" stroke="#1a1a1a" stroke-width="0.25" textLength="79.9" lengthAdjust="spacingAndGlyphs">Луховицкий</text>
<text x="506.6" y="784.2" font-size="14.1" fill="#1a1a1a" stroke="#1a1a1a" stroke-width="0.25" textLength="34.9" lengthAdjust="spacingAndGlyphs">мкрн</text>
<text x="507.4" y="803.5000000000001" font-size="15.6" fill="#1fb37c" stroke="#1fb37c" stroke-width="0.62" textLength="9.4" lengthAdjust="spacingAndGlyphs">∽</text>
<text x="517.4" y="805.3000000000001" font-size="15.6" fill="#1fb37c" stroke="#1fb37c" stroke-width="0.62" textLength="8.4" lengthAdjust="spacingAndGlyphs">3</text>
<text x="136.1" y="669.1" font-size="15.3" fill="#1a1a1a" font-weight="bold" stroke="#1a1a1a" stroke-width="0.3" textLength="50.2" lengthAdjust="spacingAndGlyphs">Лесная</text>
<text x="57.4" y="686" font-size="14.1" fill="#1a1a1a" stroke="#1a1a1a" stroke-width="0.25" textLength="128.9" lengthAdjust="spacingAndGlyphs">Серпуховский мкрн</text>
<text x="154.4" y="704.0000000000001" font-size="15.6" fill="#1fb37c" stroke="#1fb37c" stroke-width="0.62" textLength="9.4" lengthAdjust="spacingAndGlyphs">∽</text>
<text x="164.4" y="705.8000000000001" font-size="15.6" fill="#1fb37c" stroke="#1fb37c" stroke-width="0.62" textLength="20.8" lengthAdjust="spacingAndGlyphs">1,7</text>
<text x="110.7" y="737.4" font-size="15.3" fill="#1a1a1a" font-weight="bold" stroke="#1a1a1a" stroke-width="0.3" textLength="76.9" lengthAdjust="spacingAndGlyphs">Каргашино</text>
<text x="54.7" y="754.3" font-size="14.1" fill="#1a1a1a" stroke="#1a1a1a" stroke-width="0.25" textLength="132.9" lengthAdjust="spacingAndGlyphs">Мытищинский мкрн</text>
<text x="147.5" y="772.3000000000001" font-size="15.6" fill="#1fb37c" stroke="#1fb37c" stroke-width="0.62" textLength="39.0" lengthAdjust="spacingAndGlyphs">12,15</text>
</svg></body></html>
